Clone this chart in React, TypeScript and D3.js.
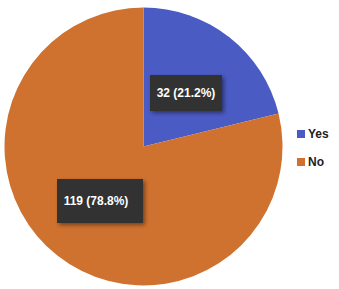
import React from "react";
import * as d3 from "d3";

const categories = ["Yes", "No"];
const counts = [32, 119];
const percents = ["21.2%", "78.8%"];
const colors = ["#4b5bc4", "#d0722f"];

export default function App() {
  const width = 339;
  const height = 289;
  const cx = 143.5;
  const cy = 146.5;
  const r = 139;
  const pie = d3.pie<number>().value((d) => d).sort(null);
  const arcs = pie(counts);
  const arc = d3.arc<d3.PieArcDatum<number>>().innerRadius(0).outerRadius(r);
  const labelArc = d3.arc<d3.PieArcDatum<number>>().innerRadius(r * 0.58).outerRadius(r * 0.58);
  const boxW = [72, 86];
  const boxH = [36, 44];
  const labelPos = [
    [186, 93],
    [100, 201],
  ];
  return (
    <svg width={width} height={height} style={{ position: "absolute", left: 0, top: 0 }}>
      <defs>
        <filter id="sh" x="-30%" y="-30%" width="160%" height="160%">
          <feDropShadow dx="2" dy="2" stdDeviation="2" floodColor="#000" floodOpacity="0.45" />
        </filter>
      </defs>
      <g transform={`translate(${cx},${cy})`}>
        {arcs.map((a, i) => (
          <path key={i} d={arc(a) || ""} fill={colors[i]} />
        ))}
      </g>
      {arcs.map((a, i) => {
        const [x, y] = labelPos[i];
        return (
          <g key={i}>
            <rect x={x - boxW[i] / 2} y={y - boxH[i] / 2} width={boxW[i]} height={boxH[i]} fill="#333333" filter="url(#sh)" />
            <text x={x - (i === 1 ? 4 : 0)} y={y} textAnchor="middle" dominantBaseline="central" fill="#fff" fontFamily="Liberation Sans, Arial, sans-serif" fontWeight="bold" fontSize={12}>
              {`${counts[i]} (${percents[i]})`}
            </text>
          </g>
        );
      })}
      {categories.map((c, i) => (
        <g key={c} transform={`translate(297,${130 + i * 28})`}>
          <rect x={0} y={0} width={8} height={8} fill={colors[i]} />
          <text x={11} y={8} fill="#222" fontFamily="Liberation Sans, Arial, sans-serif" fontWeight="bold" fontSize={12}>
            {c}
          </text>
        </g>
      ))}
    </svg>
  );
}
